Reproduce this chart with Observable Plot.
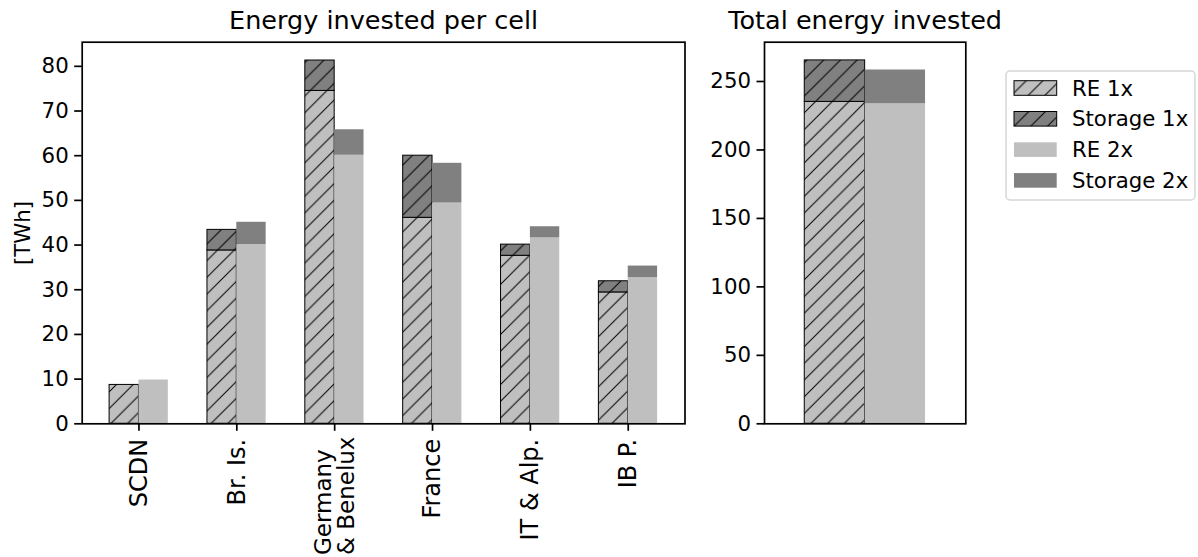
<!DOCTYPE html>
<html>
<head>
<meta charset="utf-8">
<script src="https://cdn.jsdelivr.net/npm/d3@7"></script>
<script src="https://cdn.jsdelivr.net/npm/@observablehq/plot@0.6"></script>
<style>
  html, body { margin: 0; padding: 0; background: white; }
  #wrap { position: relative; width: 1198px; height: 557px; font-family: "DejaVu Sans", sans-serif; overflow: hidden; }
  #left, #right, #legend { position: absolute; top: 0; }
  #left { left: 0; }
  #right { left: 700px; }
  #legend { left: 990px; }
  svg { overflow: visible; }
</style>
</head>
<body>
<svg width="0" height="0" style="position:absolute">
  <defs>
    <pattern id="hatchRE" patternUnits="userSpaceOnUse" width="16.7" height="16.7">
      <rect width="16.7" height="16.7" fill="#bfbfbf"></rect>
      <path d="M-4.175,4.175L4.175,-4.175M0,16.7L16.7,0M12.525,20.875L20.875,12.525" stroke="black" stroke-width="1"></path>
    </pattern>
    <pattern id="hatchST" patternUnits="userSpaceOnUse" width="16.7" height="16.7">
      <rect width="16.7" height="16.7" fill="#808080"></rect>
      <path d="M-4.175,4.175L4.175,-4.175M0,16.7L16.7,0M12.525,20.875L20.875,12.525" stroke="black" stroke-width="1"></path>
    </pattern>
  </defs>
</svg>
<div id="wrap">
  <div id="left"></div>
  <div id="right"></div>
  <div id="legend"></div>
</div>
<script>
// ---- data ----
const cells = ["SCDN", "Br. Is.", "Germany\n& Benelux", "France", "IT & Alp.", "IB P."];
const re1x      = [8.7, 38.8, 74.5, 46.1, 37.6, 29.4];
const storage1x = [0.0,  4.6,  6.8, 13.9,  2.5,  2.5];
const re2x      = [9.8, 40.1, 60.1, 49.4, 41.6, 32.7];
const storage2x = [0.0,  5.0,  5.7,  8.9,  2.5,  2.6];
const yTicksCell  = [0, 10, 20, 30, 40, 50, 60, 70, 80];
const yTicksTotal = [0, 50, 100, 150, 200, 250];
const seriesNames = ["RE 1x", "Storage 1x", "RE 2x", "Storage 2x"];
const titles = ["Energy invested per cell", "Total energy invested"];
const yLabel = "[TWh]";

// ---- derived tables ----
const rows = cells.map((c, i) => ({cell: c, i, re1: re1x[i], st1: storage1x[i], re2: re2x[i], st2: storage2x[i]}));
const totals = [
  {k: 0, re: d3.sum(re1x), st: d3.sum(storage1x)},
  {k: 1, re: d3.sum(re2x), st: d3.sum(storage2x)}
];

const FS = 21.3, XFS = 24, MFS = 23, TFS = 25.5, BW = 0.3, LABEL_GAP = 15;
const H = 557, MB = 133.7;
const C_RE = "#bfbfbf", C_ST = "#808080";
const baseStyle = {fontFamily: "DejaVu Sans", fontSize: FS + "px", background: "transparent", color: "black", overflow: "visible"};

// multi-line tick labels: lines start-aligned; keep the block inside the picture
const ctx = document.createElement("canvas").getContext("2d");
ctx.font = `${MFS}px "DejaVu Sans"`;
const single = rows.filter(d => !d.cell.includes("\n"));
const multi = rows.filter(d => d.cell.includes("\n"));
const multiLen = multi.length ? d3.max(multi, d => d3.max(d.cell.split("\n"), s => ctx.measureText(s).width)) : 0;
const multiDy = Math.min(LABEL_GAP + multiLen, MB - 2.5);

const left = Plot.plot({
  width: 700, height: H,
  marginLeft: 81.7, marginRight: 15.5, marginTop: 41.7, marginBottom: MB,
  style: baseStyle,
  x: {type: "linear", domain: [-0.58, cells.length - 1 + 0.58]},
  y: {domain: [0, 85.4]},
  marks: [
    Plot.rectY(rows, {x1: d => d.i - BW, x2: d => d.i, y1: 0, y2: d => d.re1, fill: "url(#hatchRE)", stroke: "black", strokeWidth: 1}),
    Plot.rectY(rows.filter(d => d.st1 > 0), {x1: d => d.i - BW, x2: d => d.i, y1: d => d.re1, y2: d => d.re1 + d.st1, fill: "url(#hatchST)", stroke: "black", strokeWidth: 1}),
    Plot.rectY(rows, {x1: d => d.i, x2: d => d.i + BW, y1: 0, y2: d => d.re2, fill: C_RE}),
    Plot.rectY(rows.filter(d => d.st2 > 0), {x1: d => d.i, x2: d => d.i + BW, y1: d => d.re2, y2: d => d.re2 + d.st2, fill: C_ST}),
    Plot.axisY({ticks: yTicksCell, tickSize: 7.5, tickPadding: 6, fontSize: FS, label: null, strokeWidth: 1.7}),
    Plot.axisX({ticks: d3.range(cells.length), tickSize: 7.5, tickFormat: () => "", label: null, strokeWidth: 1.7}),
    Plot.text(single, {x: d => d.i, text: d => d.cell, frameAnchor: "bottom", rotate: -90, textAnchor: "end", lineAnchor: "middle", dy: LABEL_GAP, fontSize: XFS, fill: "black"}),
    Plot.text(multi, {x: d => d.i, text: d => d.cell, frameAnchor: "bottom", rotate: -90, textAnchor: "start", lineAnchor: "middle", lineHeight: 1.0, dy: multiDy, fontSize: MFS, fill: "black"}),
    Plot.text([yLabel], {frameAnchor: "left", dx: -59.5, rotate: -90, textAnchor: "middle", lineAnchor: "middle", fontSize: FS, fill: "black"}),
    Plot.text([titles[0]], {frameAnchor: "top", dy: -21.6, textAnchor: "middle", lineAnchor: "middle", fontSize: TFS, fill: "black"}),
    Plot.frame({stroke: "black", strokeWidth: 1.7})
  ]
});
document.getElementById("left").appendChild(left);

const right = Plot.plot({
  width: 290, height: H,
  marginLeft: 64, marginRight: 24.7, marginTop: 41.7, marginBottom: MB,
  style: baseStyle,
  x: {type: "linear", domain: [-0.5, 0.5], axis: null},
  y: {domain: [0, 278.7]},
  marks: [
    Plot.rectY(totals.filter(d => d.k === 0), {x1: -BW, x2: 0, y1: 0, y2: d => d.re, fill: "url(#hatchRE)", stroke: "black", strokeWidth: 1}),
    Plot.rectY(totals.filter(d => d.k === 0), {x1: -BW, x2: 0, y1: d => d.re, y2: d => d.re + d.st, fill: "url(#hatchST)", stroke: "black", strokeWidth: 1}),
    Plot.rectY(totals.filter(d => d.k === 1), {x1: 0, x2: BW, y1: 0, y2: d => d.re, fill: C_RE}),
    Plot.rectY(totals.filter(d => d.k === 1), {x1: 0, x2: BW, y1: d => d.re, y2: d => d.re + d.st, fill: C_ST}),
    Plot.axisY({ticks: yTicksTotal, tickSize: 7.5, tickPadding: 6, fontSize: FS, label: null, strokeWidth: 1.7}),
    Plot.text([titles[1]], {frameAnchor: "top", dy: -21.6, textAnchor: "middle", lineAnchor: "middle", fontSize: TFS, fill: "black"}),
    Plot.frame({stroke: "black", strokeWidth: 1.7})
  ]
});
document.getElementById("right").appendChild(right);

// ---- legend ----
const fills = ["url(#hatchRE)", "url(#hatchST)", C_RE, C_ST];
const strokes = ["black", "black", "none", "none"];
const lg = d3.select("#legend").append("svg").attr("width", 208).attr("height", 220);
lg.append("rect").attr("x", 16).attr("y", 71).attr("width", 189).attr("height", 129)
  .attr("rx", 4).attr("fill", "white").attr("stroke", "#d6d6d6").attr("stroke-width", 1.5);
seriesNames.forEach((name, j) => {
  const cy = 88 + j * 30.8;
  lg.append("rect").attr("x", 24).attr("y", cy - 7.3).attr("width", 42.7).attr("height", 14.6)
    .attr("fill", fills[j]).attr("stroke", strokes[j]).attr("stroke-width", 1);
  lg.append("text").attr("x", 82).attr("y", cy).attr("dy", "0.36em")
    .attr("font-family", "DejaVu Sans").attr("font-size", FS).attr("fill", "black").text(name);
});
</script>
</body>
</html>
